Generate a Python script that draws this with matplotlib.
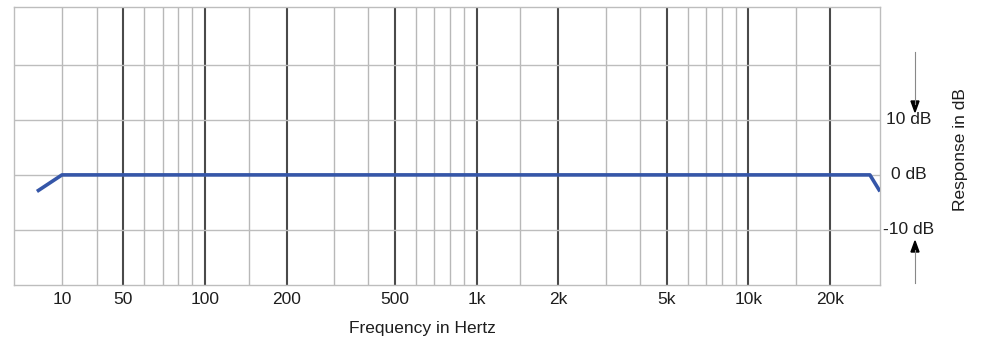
import numpy as np
import matplotlib
matplotlib.use("Agg")
import matplotlib.pyplot as plt
from matplotlib.transforms import blended_transform_factory

plt.rcParams['font.family'] = ['Liberation Sans', 'DejaVu Sans']

# Data
freq = [6.2, 10, 28000, 30500]
response_db = [-3, 0, 0, -3]

xtick_vals = [10, 50, 100, 200, 500, 1000, 2000, 5000, 10000, 20000]
xtick_labels = ['10', '50', '100', '200', '500', '1k', '2k', '5k', '10k', '20k']
major_grid = [50, 100, 200, 500, 1000, 2000, 5000, 10000, 20000]
minor_grid = [10, 20, 60, 70, 80, 90, 145, 300, 400, 600, 700, 800, 900, 1450,
              3000, 4000, 6000, 7000, 8000, 9000, 15000]
ytick_vals = [10, 0, -10]
ytick_labels = ['10 dB', '0 dB', '-10 dB']
hgrid = [-10, 0, 10, 20]

# Piecewise-log frequency axis (compressed below 50 Hz)
_anch_f = np.log10([4, 10, 20, 50, 1e5])
_anch_p = np.array([14, 62, 97, 123, 123 + 272 * (5 - np.log10(50))])

def fwd(f):
    f = np.asarray(f, dtype=float)
    f = np.where(f > 0, f, 1e-3)
    return np.interp(np.log10(f), _anch_f, _anch_p)

def inv(p):
    p = np.asarray(p, dtype=float)
    return 10 ** np.interp(p, _anch_p, _anch_f)

FS = 12.5
TC = '#1e1e1e'

fig = plt.figure(figsize=(9.81, 3.4), dpi=100)
ax = fig.add_axes([14 / 981, 1 - 285 / 340, (880 - 14) / 981, (285 - 7) / 340])
ax.set_xscale('function', functions=(fwd, inv))
ax.set_xlim(4, 30500)
ax.set_ylim(-20, 30.5)

for g in minor_grid:
    ax.axvline(g, color='#b8b8b8', lw=1.0, zorder=1)
for g in major_grid:
    ax.axvline(g, color='#4a4a4a', lw=1.5, zorder=1)
for h in hgrid:
    ax.axhline(h, color='#bdbdbd', lw=1.0, zorder=1)

ax.plot(freq, response_db, color='#3556a8', lw=2.6, solid_capstyle='butt', zorder=3)

ax.set_xticks(xtick_vals)
ax.set_xticklabels(xtick_labels, fontsize=FS, color=TC)
ax.xaxis.set_minor_locator(matplotlib.ticker.NullLocator())
ax.tick_params(axis='x', length=0, pad=5)
ax.set_yticks([])
for s in ax.spines.values():
    s.set_color('#bdbdbd')
    s.set_linewidth(1.0)

tr = blended_transform_factory(ax.transAxes, ax.transData)
for v, lab in zip(ytick_vals, ytick_labels):
    ax.text((909 - 14) / 866, v, lab, transform=tr, ha='center', va='center',
            fontsize=FS, color=TC)

fig.text(960 / 981, 1 - 150 / 340, 'Response in dB', rotation=90, ha='center',
         va='center', fontsize=FS, color=TC)
fig.text(422 / 981, 1 - 329 / 340, 'Frequency in Hertz', ha='center', va='center',
         fontsize=FS, color=TC)

# Arrows
ax_x = 915 / 981
fig.add_artist(matplotlib.lines.Line2D([ax_x, ax_x], [1 - 52 / 340, 1 - 104 / 340],
                                       color='#888888', lw=0.8, transform=fig.transFigure))
fig.add_artist(matplotlib.patches.Polygon([[ax_x - 4 / 981, 1 - 101 / 340],
                                           [ax_x + 4 / 981, 1 - 101 / 340],
                                           [ax_x, 1 - 112 / 340]], closed=True,
                                          color='black', transform=fig.transFigure))
fig.add_artist(matplotlib.lines.Line2D([ax_x, ax_x], [1 - 283 / 340, 1 - 250 / 340],
                                       color='#888888', lw=0.8, transform=fig.transFigure))
fig.add_artist(matplotlib.patches.Polygon([[ax_x - 4 / 981, 1 - 252 / 340],
                                           [ax_x + 4 / 981, 1 - 252 / 340],
                                           [ax_x, 1 - 241 / 340]], closed=True,
                                          color='black', transform=fig.transFigure))

fig.savefig('out.png', dpi=100)
